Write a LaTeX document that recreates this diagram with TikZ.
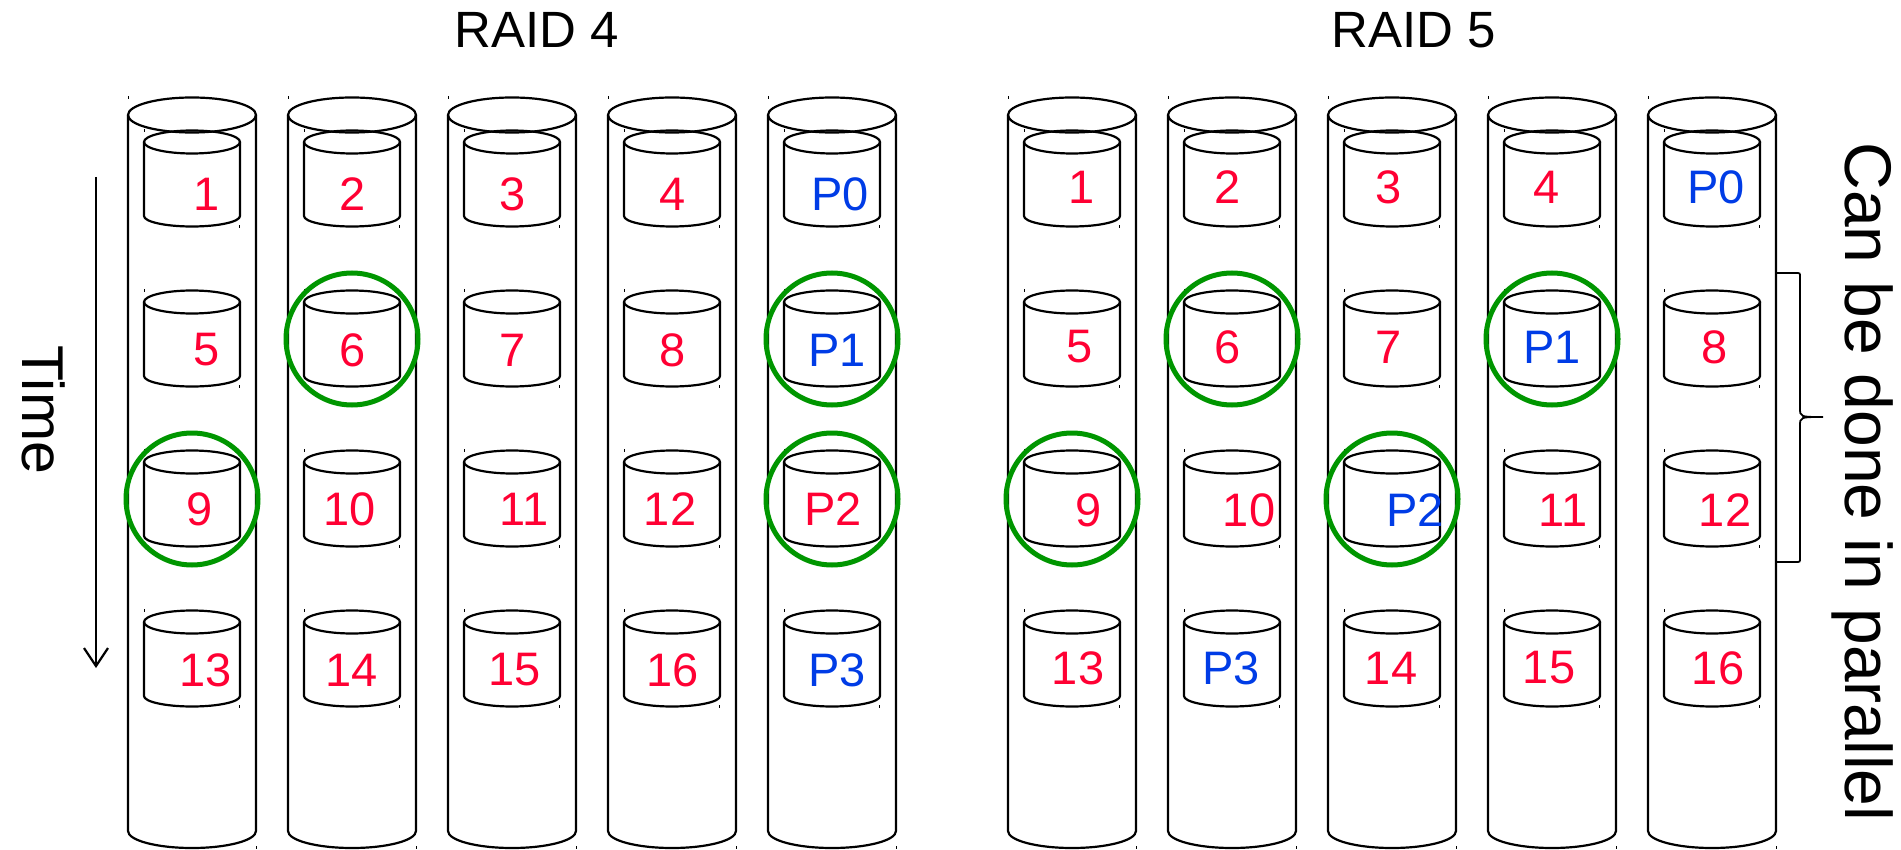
\documentclass[tikz,border=0pt]{standalone}
\usepackage{fontspec}
\setmainfont{Liberation Sans}
\usepackage{tikz}
\usetikzlibrary{arrows.meta}
\definecolor{datared}{RGB}{255,0,51}
\definecolor{parityblue}{RGB}{0,60,230}
\definecolor{busygreen}{RGB}{0,150,0}

\begin{document}
\begin{tikzpicture}[x=1pt,y=1pt,line width=2.2pt,
    blk/.style={font=\fontsize{47}{50}\selectfont, inner sep=0pt},
    data/.style={blk, text=datared},
    parity/.style={blk, text=parityblue},
    busy/.style={draw=busygreen, line width=5pt}]
    \useasboundingbox (0,0) rectangle (1901,-850);

    % Titles
    \node[font=\fontsize{51}{54}\selectfont, anchor=base] (raid4) at (537,-48) {RAID 4};
    \node[font=\fontsize{51}{54}\selectfont, anchor=base] (raid5) at (1414,-48) {RAID 5};

    % Disks (outer cylinders) with four blocks each
    \foreach \base in {192,1072} {
        \foreach \i in {0,...,4} {
            \pgfmathsetmacro{\cx}{\base+160*\i}
            \draw (\cx,-115) ellipse [x radius=64, y radius=17.5];
            \draw (\cx-64,-115) -- (\cx-64,-831)
                arc[start angle=180, end angle=360, x radius=64, y radius=17] -- (\cx+64,-115);
            \fill (\cx-64.5,-96) rectangle ++(1,-3);
            \fill (\cx+64,-846) rectangle ++(1,-3);
            \foreach \j in {0,...,3} {
                \pgfmathsetmacro{\cy}{-142-160*\j}
                \draw (\cx,\cy) ellipse [x radius=48, y radius=11.5];
                \draw (\cx-48,\cy) -- (\cx-48,\cy-74)
                    arc[start angle=180, end angle=360, x radius=48, y radius=10.5] -- (\cx+48,\cy);
                \fill (\cx-48.5,\cy+13) rectangle ++(1,-3);
                \fill (\cx+47,\cy-83) rectangle ++(1,-3);
            }
        }
    }

    % RAID 4 blocks
    \foreach \t/\x/\y/\s in {1/207/194/data, 2/353/194/data, 3/513/194/data, 4/673/194/data, P0/840/194/parity,
        5/207/350/data, 6/353/350/data, 7/513/350/data, 8/673/350/data, P1/837/350/parity,
        9/200/509/data, 10/350/509/data, 11/524/509/data, 12/670/509/data, P2/833/509/data,
        13/206/670/data, 14/352/670/data, 15/515/670/data, 16/673/670/data, P3/837/670/parity}
        \node[\s] (r4-\t) at (\x,-\y) {\t};

    % RAID 5 blocks
    \foreach \t/\x/\y/\s in {1/1082/187/data, 2/1228/187/data, 3/1389/187/data, 4/1547/187/data, P0/1716/187/parity,
        5/1080/347/data, 6/1228/347/data, 7/1389/347/data, P1/1552/347/parity, 8/1715/347/data,
        9/1089/510/data, 10/1249/510/data, P2/1415/510/parity, 11/1563/510/data, 12/1725/510/data,
        13/1078/668/data, P3/1231/668/parity, 14/1391/668/data, 15/1549/668/data, 16/1718/668/data}
        \node[\s] (r5-\t) at (\x,-\y) {\t};

    % Blocks touched by the writes
    \foreach \x/\y in {352/339, 192/499, 832/339, 832/499, 1232/339, 1072/499, 1392/499, 1552/339}
        \draw[busy] (\x,-\y) circle[radius=66];

    % Time axis
    \node[rotate=-90, anchor=base, font=\fontsize{59}{62}\selectfont] (time) at (23,-409.5) {Time};
    \coordinate (tstart) at (96,-177);
    \coordinate (tend) at (96,-668);
    \draw[-{Straight Barb[length=18pt,width=24pt]}] (tstart) -- (tend);

    % Brace
    \draw[line width=1.8pt] (1777,-273) -- (1796,-273) .. controls (1800,-273) .. (1800,-277) -- (1800,-408)
        .. controls (1800,-417) .. (1823,-417) .. controls (1800,-417) .. (1800,-426) -- (1800,-558)
        .. controls (1800,-562) .. (1796,-562) -- (1777,-562);
    \node[rotate=-90, anchor=base, font=\fontsize{66}{68}\selectfont] (parallel) at (1845,-482) {Can be done in parallel};
\end{tikzpicture}
\end{document}
